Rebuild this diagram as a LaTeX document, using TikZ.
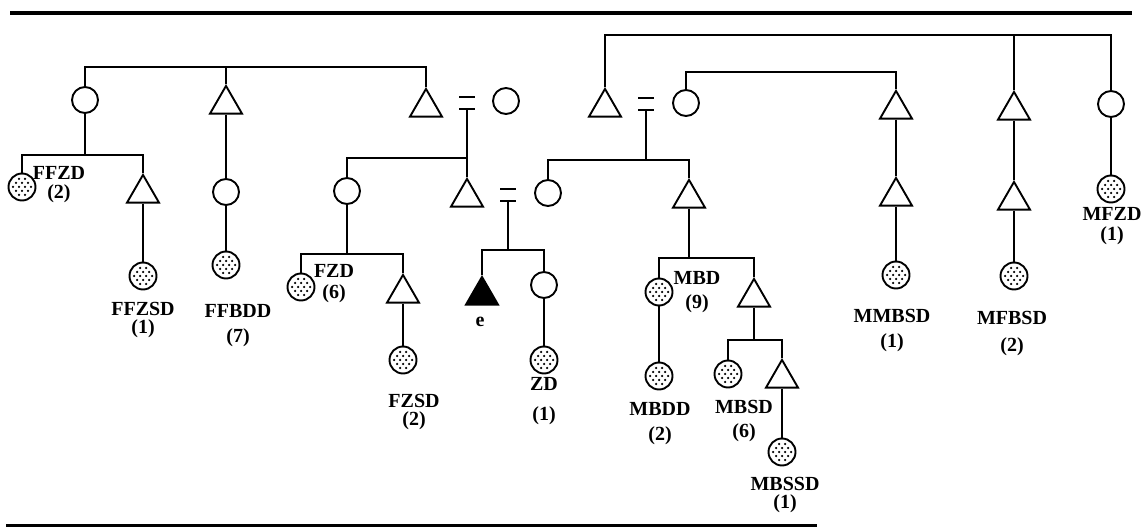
\documentclass[tikz,border=0pt]{standalone}
\usepackage{fontspec}
\setmainfont{Liberation Serif}
\usetikzlibrary{shapes.geometric,calc}
\begin{document}
\begin{tikzpicture}[x=1pt,y=-1pt,line width=1.9pt,
  tri/.style={draw, regular polygon, regular polygon sides=3, minimum size=37pt, inner sep=0pt, anchor=north},
  egotri/.style={tri, fill=black},
  fem/.style={draw, circle, minimum size=26pt, inner sep=0pt},
  stip/.style={fem, minimum size=27pt, path picture={
      \foreach \a/\b in {-3/-8,3/-8,-6/-4,0/-4,6/-4,-9/0,-3/0,3/0,9/0,-6/4,0/4,6/4,-3/8,3/8}
        \fill ([shift={(\a,\b)}]path picture bounding box.center) circle (1.25pt);}},
  eqs/.style={minimum width=14pt, minimum height=10pt, inner sep=0pt},
  eqline/.style={line width=2.6pt},
  lab/.style={font=\fontsize{20}{20}\selectfont\bfseries, align=center, inner sep=0pt, anchor=north},
  thin/.style={line width=1.3pt},
  rule/.style={line width=3.5pt}]
\useasboundingbox (0,0) rectangle (1141,529);
% rules
\coordinate (r1) at (10,13);
\coordinate (r2) at (1132,13);
\coordinate (r3) at (6,525);
\coordinate (r4) at (817,525);
\draw[rule] (r1) -- (r2);
\draw[line width=3pt] (r3) -- (r4);

% generation 1
\node[fem] (FFZ) at (85,100) {};
\node[tri] (FFB) at (226,84) {};
\node[tri] (FF) at (426,87) {};
\node[eqs] (e1) at (467,103) {};
\node[fem] (FM) at (506,101) {};
\node[tri] (MF) at (605,87) {};
\node[eqs] (e3) at (646,104) {};
\node[fem] (MM) at (686,103) {};
\node[tri] (MMB) at (896,89) {};
\node[tri] (MFB) at (1014,90) {};
\node[fem] (MFZ) at (1111,104) {};

% generation 2
\node[stip] (FFZD) at (22,187) {};
\node[tri] (FFZS) at (143,173) {};
\node[fem] (FFBD) at (226,192) {};
\node[fem] (FZ) at (347,191) {};
\node[tri] (F) at (467,177) {};
\node[eqs] (e2) at (508,195) {};
\node[fem] (M) at (548,193) {};
\node[tri] (MB) at (689,178) {};
\node[tri] (MMBS) at (896,176) {};
\node[tri] (MFBS) at (1014,180) {};
\node[stip] (MFZD) at (1111,189) {};

% generation 3
\node[stip] (FFZSD) at (143,276) {};
\node[stip] (FFBDD) at (226,265) {};
\node[stip] (FZD) at (301,287) {};
\node[tri] (FZS) at (403,273) {};
\node[egotri] (ego) at (482,275) {};
\node[fem] (Z) at (544,285) {};
\node[stip] (MBD) at (659,292) {};
\node[tri] (MBS) at (754,277) {};
\node[stip] (MMBSD) at (896,275) {};
\node[stip] (MFBSD) at (1014,276) {};

% generation 4
\node[stip] (FZSD) at (403,360) {};
\node[stip] (ZD) at (544,360) {};
\node[stip] (MBDD) at (659,376) {};
\node[stip] (MBSD) at (728,374) {};
\node[tri] (MBSS) at (782,358) {};
\node[stip] (MBSSD) at (782,452) {};

% equal signs
\foreach \n in {e1,e2,e3}
  \draw[eqline] (\n.north west) -- (\n.north east) (\n.south west) -- (\n.south east);

% connectors
\coordinate (b1) at (426,67);
\draw (FFZ.north) |- (b1) -- (FF.north);
\draw (FFB.north) -- (FFB.north |- b1);

\coordinate (b2) at (605,35);
\draw (MF.north) -- (b2) -| (MFZ.north);
\draw (MFB.north) -- (MFB.north |- b2);

\coordinate (b3) at (790,72);
\draw (MM.north) |- (b3) -| (MMB.north);

\coordinate (b4) at (467,158);
\draw (e1.south) -- (F.north);
\draw (FZ.north) |- (b4);

\coordinate (b5) at (85,155);
\draw (FFZ.south) -- (b5);
\draw (FFZD.north) |- (b5) -| (FFZS.north);
\draw (FFZS.south) -- (FFZSD.north);
\draw (FFB.south) -- (FFBD.north);
\draw (FFBD.south) -- (FFBDD.north);

\coordinate (b6) at (646,160);
\draw (e3.south) -- (b6);
\draw (M.north) |- (b6) -| (MB.north);

\coordinate (b7) at (508,250);
\draw (e2.south) -- (b7);
\draw (ego.north) |- (b7) -| (Z.north);
\draw (Z.south) -- (ZD.north);

\coordinate (b8) at (347,254);
\draw (FZ.south) -- (b8);
\draw (FZD.north) |- (b8) -| (FZS.north);
\draw (FZS.south) -- (FZSD.north);

\coordinate (b9) at (689,258);
\draw (MB.south) -- (b9);
\draw (MBD.north) |- (b9) -| (MBS.north);
\draw[thin] (MBD.south) -- (MBDD.north);

\coordinate (b10) at (754,340);
\draw (MBS.south) -- (b10);
\draw (MBSD.north) |- (b10) -| (MBSS.north);
\draw (MBSS.south) -- (MBSSD.north);

\draw (MMB.south) -- (MMBS.north);
\draw (MMBS.south) -- (MMBSD.north);
\draw (MFB.south) -- (MFBS.north);
\draw[thin] (MFBS.south) -- (MFBSD.north);
\draw[thin] (MFZ.south) -- (MFZD.north);

% labels
\node[lab] (lFFZD) at (59,165) {FFZD\\[-0.5pt](2)};
\node[lab] (lFFZSD) at (143,301) {FFZSD\\[-1.5pt](1)};
\node[lab] (lFFBDD) at (238,303) {FFBDD\\[5.5pt](7)};
\node[lab] (lFZD) at (334,263) {FZD\\[1.5pt](6)};
\node[lab] (lFZSD) at (414,393) {FZSD\\[-1.5pt](2)};
\node[lab, anchor=base] (le) at (480,327) {e};
\node[lab] (lZD) at (544,376) {ZD\\[10.5pt](1)};
\node[lab] (lMBD) at (697,270) {MBD\\[4.5pt](9)};
\node[lab] (lMBDD) at (660,401) {MBDD\\[5.5pt](2)};
\node[lab] (lMBSD) at (744,399) {MBSD\\[4.5pt](6)};
\node[lab] (lMBSSD) at (785,476) {MBSSD\\[-1.5pt](1)};
\node[lab] (lMMBSD) at (892,308) {MMBSD\\[5.5pt](1)};
\node[lab] (lMFBSD) at (1012,310) {MFBSD\\[7.5pt](2)};
\node[lab] (lMFZD) at (1112,206) {MFZD\\[0pt](1)};
\end{tikzpicture}
\end{document}
